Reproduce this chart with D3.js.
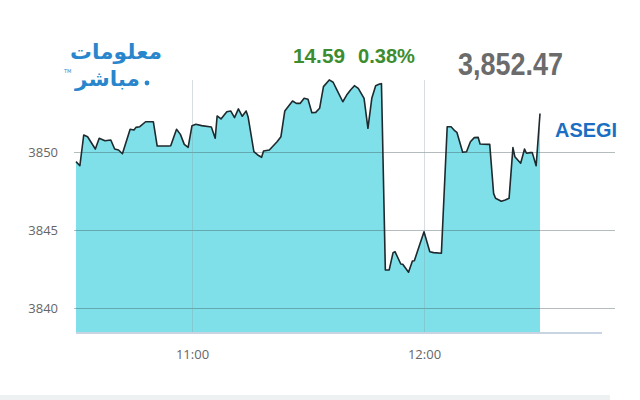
<!DOCTYPE html>
<html>
<head>
<meta charset="utf-8">
<script src="https://cdn.jsdelivr.net/npm/d3@7"></script>
<style>
  body { margin: 0; background: #fff; }
  svg { display: block; }
</style>
</head>
<body>
<script>
// intraday ASEGI readings (times + index level)
var times = ["10:30","10:31","10:32","10:33","10:35","10:36","10:37:30","10:39","10:40","10:41",
  "10:42","10:44","10:45","10:45:30","10:46:30","10:48","10:50","10:51","10:54","10:54:30",
  "10:56","10:57","10:58","10:59","11:00","11:01","11:02:30","11:05","11:06","11:06:30",
  "11:07:30","11:09","11:10","11:11","11:12","11:13","11:14","11:14:30","11:16","11:17",
  "11:18","11:18:30","11:20","11:22","11:23","11:24","11:26","11:27","11:28","11:29",
  "11:30","11:31","11:32","11:33","11:34","11:35:30","11:36:30","11:37:30","11:39","11:40",
  "11:41","11:42","11:43","11:44:30","11:45:30","11:46:30","11:47:30","11:48:30","11:49","11:50",
  "11:51","11:52","11:52:30","11:54","11:54:30","11:56","11:57","11:57:30","12:00","12:01:30",
  "12:02:30","12:04:30","12:06","12:07","12:08","12:08:30","12:10","12:11","12:12","12:13",
  "12:14","12:14:30","12:16:30","12:17","12:18","12:18:30","12:20","12:21","12:22","12:23",
  "12:23:30","12:25","12:26","12:26:30","12:27:30","12:28","12:29","12:30"];
var values = [3849.38,3849.12,3851.09,3850.98,3850.19,3850.88,3850.72,3850.77,3850.19,3850.13,
  3849.89,3851.46,3851.41,3851.58,3851.62,3851.94,3851.94,3850.38,3850.38,3850.40,
  3851.46,3851.13,3850.49,3850.30,3851.69,3851.78,3851.69,3851.60,3850.88,3852.31,
  3852.12,3852.58,3852.63,3852.20,3852.76,3852.29,3852.63,3852.26,3850.02,3849.81,
  3849.66,3850.06,3850.13,3850.66,3850.98,3852.63,3853.27,3853.12,3853.12,3853.44,
  3853.38,3852.52,3852.54,3852.80,3854.19,3854.62,3854.47,3853.97,3853.22,3853.65,
  3853.97,3854.25,3854.08,3853.44,3851.52,3853.44,3854.25,3854.36,3854.38,3842.44,
  3842.44,3843.55,3843.61,3842.82,3842.80,3842.29,3843.01,3843.03,3844.89,3843.61,
  3843.55,3843.51,3851.62,3851.62,3851.35,3851.26,3849.98,3850.02,3850.66,3850.92,
  3850.94,3850.51,3850.49,3850.49,3847.35,3847.03,3846.84,3846.92,3847.03,3850.28,
  3849.70,3849.28,3850.19,3849.92,3849.96,3849.96,3849.12,3852.47];

var yTicks = [3840, 3845, 3850];
var xTicks = ["11:00", "12:00"];
var xDomain = ["10:30", "12:45"];

var indexName = "ASEGI";
var lastValue = "3,852.47";
var change = "14.59";
var changePct = "0.38%";

var parse = d3.timeParse("%H:%M:%S");
function toDate(t) { return parse(t.length == 5 ? t + ":00" : t); }

var data = times.map(function(t, i) { return { date: toDate(t), value: values[i] }; });

var svg = d3.select("body").append("svg")
    .attr("width", 640)
    .attr("height", 400);

var plotTop = 80, plotBottom = 332, gridLeft = 74, gridRight = 615;

var x = d3.scaleTime()
    .domain(xDomain.map(toDate))
    .range([76, 598]);

var y = d3.scaleLinear()
    .domain([3840, 3850])
    .range([308, 152]);

//****************************** Area + line ******************************
var area = d3.area()
    .x(function(d) { return x(d.date); })
    .y0(plotBottom)
    .y1(function(d) { return y(d.value); });

svg.append("path")
    .datum(data)
    .attr("d", area)
    .attr("fill", "#7fe0e9");

// bottom axis rule
svg.append("line")
    .attr("x1", 76).attr("x2", 602)
    .attr("y1", plotBottom + 1).attr("y2", plotBottom + 1)
    .attr("stroke", "#c9d4e2")
    .attr("stroke-width", 2);

//****************************** Grid / axes ******************************
var yAxis = svg.append("g")
    .attr("transform", "translate(" + gridLeft + ",0)")
    .call(d3.axisLeft(y)
      .tickValues(yTicks)
      .tickSize(-(gridRight - gridLeft))
      .tickPadding(16)
      .tickFormat(d3.format("d")));
yAxis.select(".domain").remove();
yAxis.selectAll("line")
    .attr("stroke", "#3d4f55")
    .attr("stroke-opacity", 0.38);
yAxis.selectAll("text")
    .attr("fill", "#666")
    .attr("font-family", "'Open Sans', sans-serif")
    .attr("font-size", "13px");

var xAxis = svg.append("g")
    .attr("transform", "translate(0," + plotBottom + ")")
    .call(d3.axisBottom(x)
      .tickValues(xTicks.map(toDate))
      .tickSizeInner(-(plotBottom - plotTop))
      .tickSizeOuter(0)
      .tickPadding(18)
      .tickFormat(d3.timeFormat("%H:%M")));
xAxis.select(".domain").remove();
xAxis.selectAll("line")
    .attr("stroke", "#8aa0a8")
    .attr("stroke-opacity", 0.35);
xAxis.selectAll("text")
    .attr("fill", "#666")
    .attr("font-family", "'Open Sans', sans-serif")
    .attr("font-size", "13px");

var line = d3.line()
    .x(function(d) { return x(d.date); })
    .y(function(d) { return y(d.value); });

svg.append("path")
    .datum(data)
    .attr("d", line)
    .attr("fill", "none")
    .attr("stroke", "#1e2a2e")
    .attr("stroke-width", 1.6)
    .attr("stroke-linejoin", "round");

//****************************** Header texts ******************************
svg.append("text")
    .attr("x", 293).attr("y", 63)
    .attr("textLength", 52).attr("lengthAdjust", "spacingAndGlyphs")
    .attr("font-family", "'Liberation Sans', Arial, sans-serif")
    .attr("font-weight", "bold")
    .attr("font-size", "21px")
    .attr("fill", "#3d8c2f")
    .text(change);

svg.append("text")
    .attr("x", 358).attr("y", 63)
    .attr("textLength", 57).attr("lengthAdjust", "spacingAndGlyphs")
    .attr("font-family", "'Liberation Sans', Arial, sans-serif")
    .attr("font-weight", "bold")
    .attr("font-size", "21px")
    .attr("fill", "#3d8c2f")
    .text(changePct);

svg.append("text")
    .attr("x", 458).attr("y", 75)
    .attr("textLength", 105).attr("lengthAdjust", "spacingAndGlyphs")
    .attr("font-family", "'Liberation Sans', Arial, sans-serif")
    .attr("font-weight", "bold")
    .attr("font-size", "31px")
    .attr("fill", "#6b6b6b")
    .text(lastValue);

svg.append("text")
    .attr("x", 555).attr("y", 137)
    .attr("textLength", 62).attr("lengthAdjust", "spacingAndGlyphs")
    .attr("font-family", "'Liberation Sans', Arial, sans-serif")
    .attr("font-weight", "bold")
    .attr("font-size", "21px")
    .attr("fill", "#1a6fc2")
    .text(indexName);

//****************************** Logo ******************************
svg.append("text")
    .attr("x", 70).attr("y", 59)
    .attr("textLength", 92).attr("lengthAdjust", "spacingAndGlyphs")
    .attr("font-family", "'DejaVu Sans', sans-serif")
    .attr("font-weight", "bold")
    .attr("font-size", "21px")
    .attr("fill", "#2a86cc")
    .text("معلومات");

svg.append("text")
    .attr("x", 75).attr("y", 86)
    .attr("textLength", 65).attr("lengthAdjust", "spacingAndGlyphs")
    .attr("font-family", "'DejaVu Sans', sans-serif")
    .attr("font-weight", "bold")
    .attr("font-size", "21px")
    .attr("fill", "#2a86cc")
    .text("مباشر");

svg.append("circle")
    .attr("cx", 147).attr("cy", 83)
    .attr("r", 2.4)
    .attr("fill", "#2a86cc");

svg.append("text")
    .attr("x", 64).attr("y", 73)
    .attr("font-family", "'DejaVu Sans', sans-serif")
    .attr("font-size", "5px")
    .attr("fill", "#2a86cc")
    .text("TM");

//****************************** Footer strip ******************************
svg.append("rect")
    .attr("x", 0).attr("y", 395)
    .attr("width", 610).attr("height", 5)
    .attr("fill", "#eef1f1");
</script>
</body>
</html>
